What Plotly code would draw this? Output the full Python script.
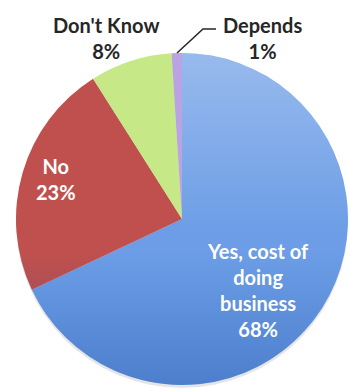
import base64
import plotly.graph_objects as go

# Survey responses
labels = ["Yes, cost of<br>doing<br>business", "No", "Don't Know", "Depends"]
values = [68, 23, 8, 1]
colors = ["#6c9de6", "#c0504d", "#c6e886", "#b9a3e2"]

W, H = 349, 390
cx, cy, r = 182, 219, 166  # pie centre / radius in pixels


def px(x):
    return x / W


def py(y):
    return 1 - y / H


fig = go.Figure(
    go.Pie(
        labels=labels,
        values=values,
        sort=False,
        direction="clockwise",
        rotation=0,
        marker=dict(colors=colors, line=dict(width=0)),
        textinfo="none",
        showlegend=False,
        domain=dict(x=[px(cx - r), px(cx + r)], y=[py(cy + r), py(cy - r)]),
    )
)

# slice labels: (x, y, colour)
label_pos = [
    (258, 290, "white"),
    (56, 179, "white"),
    (106, 38, "#262626"),
    (262, 38, "#262626"),
]
annotations = []
for lab, val, (x, y, col) in zip(labels, values, label_pos):
    annotations.append(
        dict(
            x=px(x), y=py(y), xref="paper", yref="paper",
            text=f"{lab}<br>{val}%", showarrow=False,
            font=dict(family="Lato", size=20, color=col, weight="bold"),
            xanchor="center", yanchor="middle", align="center",
        )
    )

shapes = [
    # leader line to the small slice
    dict(
        type="path", xref="paper", yref="paper",
        path=f"M {px(177)} {py(53)} L {px(203)} {py(29)} L {px(216)} {py(29)}",
        line=dict(color="#262626", width=1.5),
        layer="above",
    ),
    # soft shadow under the pie
    dict(
        type="circle", xref="paper", yref="paper",
        x0=px(cx - r), x1=px(cx + r), y0=py(cy + r + 3), y1=py(cy - r + 3),
        fillcolor="rgba(0,0,0,0.10)", line=dict(width=0), layer="below",
    ),
]

# shading over the disc: lighter upper-right half, deeper bottom
shade_svg = (
    '<svg xmlns="http://www.w3.org/2000/svg" viewBox="0 0 100 100">'
    '<defs>'
    '<linearGradient id="lt" x1="0" y1="0" x2="0" y2="1">'
    '<stop offset="0" stop-color="#ffffff" stop-opacity="0.30"/>'
    '<stop offset="0.55" stop-color="#ffffff" stop-opacity="0"/>'
    '</linearGradient>'
    '<linearGradient id="dk" x1="0" y1="0" x2="0" y2="1">'
    '<stop offset="0.6" stop-color="#14469f" stop-opacity="0"/>'
    '<stop offset="1" stop-color="#14469f" stop-opacity="0.35"/>'
    '</linearGradient>'
    '</defs>'
    '<path d="M50 0 A50 50 0 0 1 50 100 Z" fill="url(#lt)"/>'
    '<circle cx="50" cy="50" r="50" fill="url(#dk)"/></svg>'
)
shade_uri = "data:image/svg+xml;base64," + base64.b64encode(shade_svg.encode()).decode()

fig.update_layout(
    width=W, height=H,
    margin=dict(l=0, r=0, t=0, b=0),
    paper_bgcolor="white", plot_bgcolor="white",
    annotations=annotations, shapes=shapes,
    images=[dict(
        source=shade_uri, xref="paper", yref="paper",
        x=px(cx - r), y=py(cy - r), sizex=2 * r / W, sizey=2 * r / H,
        xanchor="left", yanchor="top", sizing="stretch", layer="above",
    )],
)

fig.write_html("out.html")
